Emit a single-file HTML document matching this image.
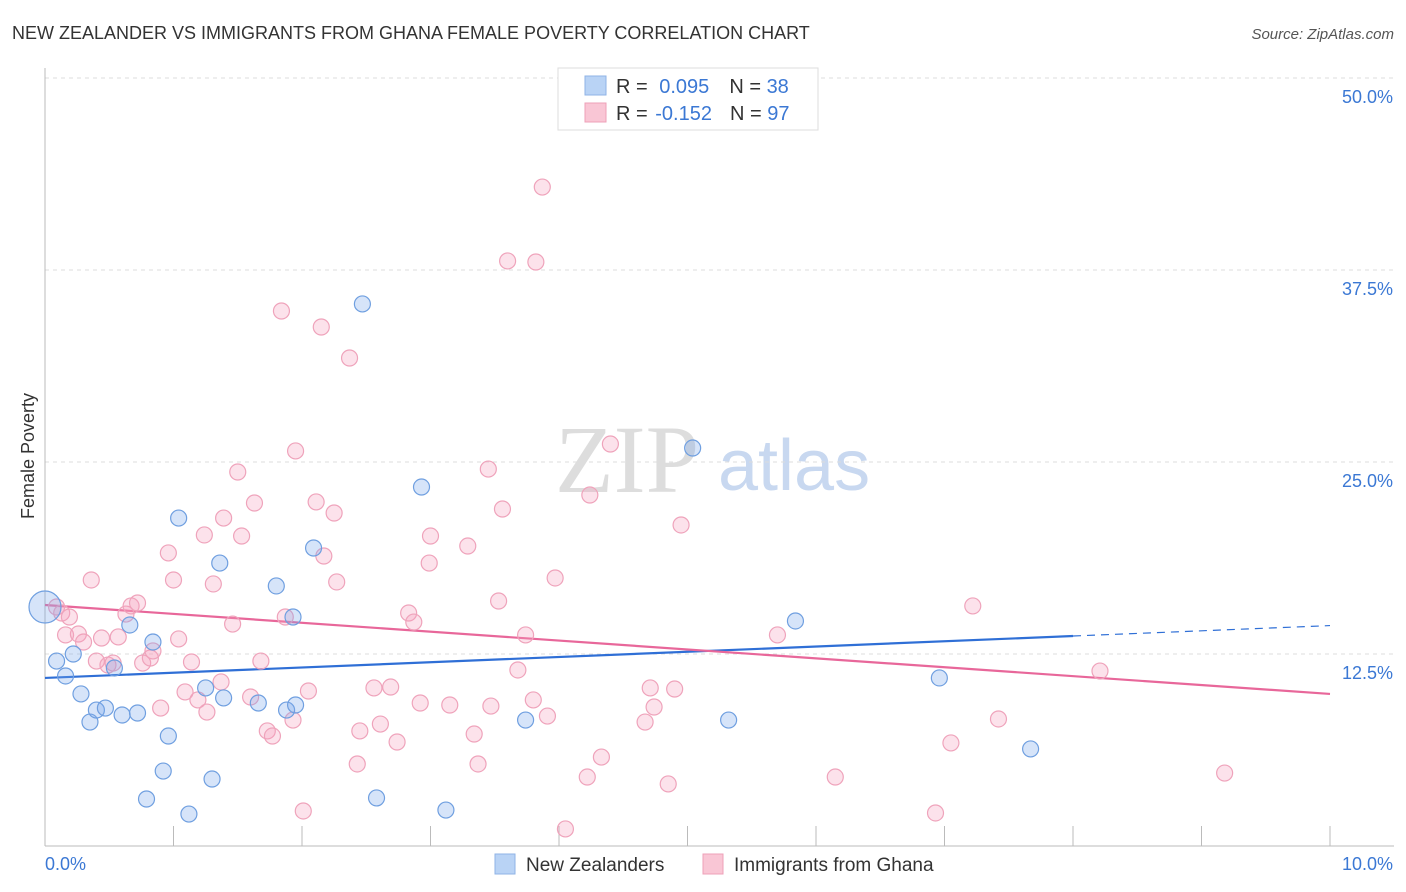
<!DOCTYPE html>
<html><head><meta charset="utf-8"><style>
body{margin:0;background:#fff;font-family:"Liberation Sans",sans-serif;}
svg{display:block}
</style></head><body>
<svg id="chart" width="1406" height="892" xmlns="http://www.w3.org/2000/svg">
<text x="12" y="39" font-size="18" fill="#333">NEW ZEALANDER VS IMMIGRANTS FROM GHANA FEMALE POVERTY CORRELATION CHART</text>
<text x="1394" y="39" font-size="15" fill="#555" font-style="italic" text-anchor="end">Source: ZipAtlas.com</text>
<text x="34" y="456" font-size="18" fill="#333" text-anchor="middle" transform="rotate(-90 34 456)">Female Poverty</text>
<g>
<text x="555" y="492" font-size="96" font-family="Liberation Serif,serif" fill="#ddd">ZIP</text>
<text x="718" y="490" font-size="72" fill="#c8d8f0">atlas</text>
</g>
<g id="grid"></g>
<g id="axes"></g>
<g id="lines"></g>
<g id="points"></g>
<g>
<rect x="558" y="68" width="260" height="62" fill="#fff" stroke="#ddd"/>
<rect x="585" y="76" width="21" height="19" fill="#b9d3f5" stroke="#8fb3e6"/>
<rect x="585" y="103" width="21" height="19" fill="#f9c6d5" stroke="#eea0b8"/>
<text x="616" y="93" font-size="20" fill="#333">R = <tspan fill="#3b78d4" dx="6">0.095</tspan><tspan dx="20" fill="#333">N = </tspan><tspan fill="#3b78d4">38</tspan></text>
<text x="616" y="120" font-size="20" fill="#333">R = <tspan fill="#3b78d4" dx="2">-0.152</tspan><tspan dx="18" fill="#333">N = </tspan><tspan fill="#3b78d4">97</tspan></text>
</g>
<g>
<rect x="495" y="854" width="20" height="20" fill="#b9d3f5" stroke="#8fb3e6"/>
<text x="526" y="871" font-size="19" fill="#333">New Zealanders</text>
<rect x="703" y="854" width="20" height="20" fill="#f9c6d5" stroke="#eea0b8"/>
<text x="734" y="871" font-size="19" fill="#333">Immigrants from Ghana</text>
</g>
</svg>
<script>
const yTicks=[12.5,25,37.5,50];
const yTickLabels=["12.5%","25.0%","37.5%","50.0%"];
const xTicks=[0,1,2,3,4,5,6,7,8,9,10];
const blueX=[0.00,0.09,0.16,0.22,0.28,0.35,0.40,0.47,0.54,0.60,0.66,0.72,0.79,0.84,0.92,0.96,1.04,1.12,1.25,1.30,1.36,1.39,1.66,1.80,1.88,1.93,1.95,2.09,2.47,2.58,2.93,3.12,3.74,5.04,5.32,5.84,6.96,7.67];
const blueY=[15.56,12.04,11.07,12.50,9.90,8.07,8.85,8.98,11.59,8.53,14.39,8.66,3.06,13.28,4.88,7.16,21.35,2.08,10.29,4.36,18.42,9.64,9.31,16.93,8.85,14.91,9.18,19.40,35.29,3.13,23.37,2.34,8.20,25.91,8.20,14.65,10.94,6.32];
const pinkX=[0.09,0.13,0.19,0.16,0.26,0.30,0.36,0.40,0.44,0.49,0.53,0.57,0.63,0.67,0.72,0.76,0.82,0.84,0.90,0.96,1.00,1.04,1.09,1.14,1.19,1.24,1.26,1.31,1.37,1.39,1.46,1.50,1.53,1.60,1.63,1.68,1.73,1.77,1.84,1.87,1.93,1.95,2.01,2.05,2.11,2.15,2.17,2.25,2.27,2.37,2.43,2.45,2.56,2.61,2.69,2.74,2.83,2.87,2.92,2.99,3.00,3.15,3.29,3.34,3.37,3.45,3.47,3.53,3.56,3.60,3.68,3.74,3.80,3.82,3.87,3.91,3.97,4.05,4.22,4.24,4.33,4.40,4.67,4.71,4.74,4.85,4.90,4.95,5.70,6.15,6.93,7.05,7.22,7.42,8.21,9.18];
const pinkY=[15.56,15.17,14.91,13.74,13.80,13.28,17.32,12.04,13.54,11.78,11.91,13.61,15.10,15.63,15.82,11.91,12.24,12.70,8.98,19.08,17.32,13.48,10.03,11.98,9.51,20.25,8.72,17.06,10.68,21.35,14.45,24.35,20.18,9.70,22.33,12.04,7.49,7.16,34.83,14.91,8.20,25.72,2.28,10.09,22.40,33.79,18.88,21.68,17.19,31.77,5.34,7.49,10.29,7.94,10.35,6.77,15.17,14.58,9.31,18.42,20.18,9.18,19.53,7.29,5.34,24.54,9.11,15.95,21.94,38.09,11.46,13.74,9.51,38.02,42.90,8.46,17.45,1.11,4.49,22.85,5.79,26.17,8.07,10.29,9.05,4.04,10.22,20.90,13.74,4.49,2.15,6.71,15.63,8.27,11.39,4.75];
const blueTrendX=[0,8,10];
const blueTrendY=[10.94,13.67,14.35];
const pinkTrendX=[0,10];
const pinkTrendY=[15.69,9.90];

const NS="http://www.w3.org/2000/svg";
const X=v=>45+v*128.5;
const Y=v=>846-v*15.36;
function mk(tag,attrs,parent){const e=document.createElementNS(NS,tag);for(const k in attrs)e.setAttribute(k,attrs[k]);document.getElementById(parent).appendChild(e);return e;}

yTicks.forEach((t,i)=>{
  const l=mk('line',{x1:45,x2:1394,y1:Y(t),y2:Y(t),stroke:'#ddd','stroke-dasharray':'4 4'},'grid');
  
  
  const tx=mk('text',{x:1393,y:Y(t)+25,'font-size':18,fill:'#3b78d4','text-anchor':'end'},'grid');
  tx.textContent=yTickLabels[i];
  
  
});
let a=mk('line',{x1:45,x2:45,y1:68,y2:846,stroke:'#bbb'},'axes');


a=mk('line',{x1:45,x2:1394,y1:846,y2:846,stroke:'#bbb'},'axes');


xTicks.forEach(t=>{
  const l=mk('line',{x1:X(t),x2:X(t),y1:826,y2:846,stroke:'#bbb'},'axes');
  
  
});
let t0=mk('text',{x:45,y:870,'font-size':18,fill:'#3b78d4'},'axes');t0.textContent='0.0%';


let t1=mk('text',{x:1393,y:870,'font-size':18,fill:'#3b78d4','text-anchor':'end'},'axes');t1.textContent='10.0%';



pinkX.forEach((x,i)=>{
  const c=mk('circle',{cx:X(x),cy:Y(pinkY[i]),r:8,fill:'rgba(244,160,188,0.3)',stroke:'#efa3bb','stroke-width':1.2},'points');
  
  
});
blueX.forEach((x,i)=>{
  const c=mk('circle',{cx:X(x),cy:Y(blueY[i]),r:i===0?16:8,fill:'rgba(120,165,235,0.3)',stroke:'#6f9fe0','stroke-width':1.2},'points');
  
  
});
let bl=mk('line',{x1:X(blueTrendX[0]),y1:Y(blueTrendY[0]),x2:X(blueTrendX[1]),y2:Y(blueTrendY[1]),stroke:'#2f6fd6','stroke-width':2.2},'lines');


let bd=mk('line',{x1:X(blueTrendX[1]),y1:Y(blueTrendY[1]),x2:X(blueTrendX[2]),y2:Y(blueTrendY[2]),stroke:'#2f6fd6','stroke-width':1.2,'stroke-dasharray':'8 6'},'lines');


let pl=mk('line',{x1:X(pinkTrendX[0]),y1:Y(pinkTrendY[0]),x2:X(pinkTrendX[1]),y2:Y(pinkTrendY[1]),stroke:'#e8679a','stroke-width':2.2},'lines');


</script>
</body></html>
